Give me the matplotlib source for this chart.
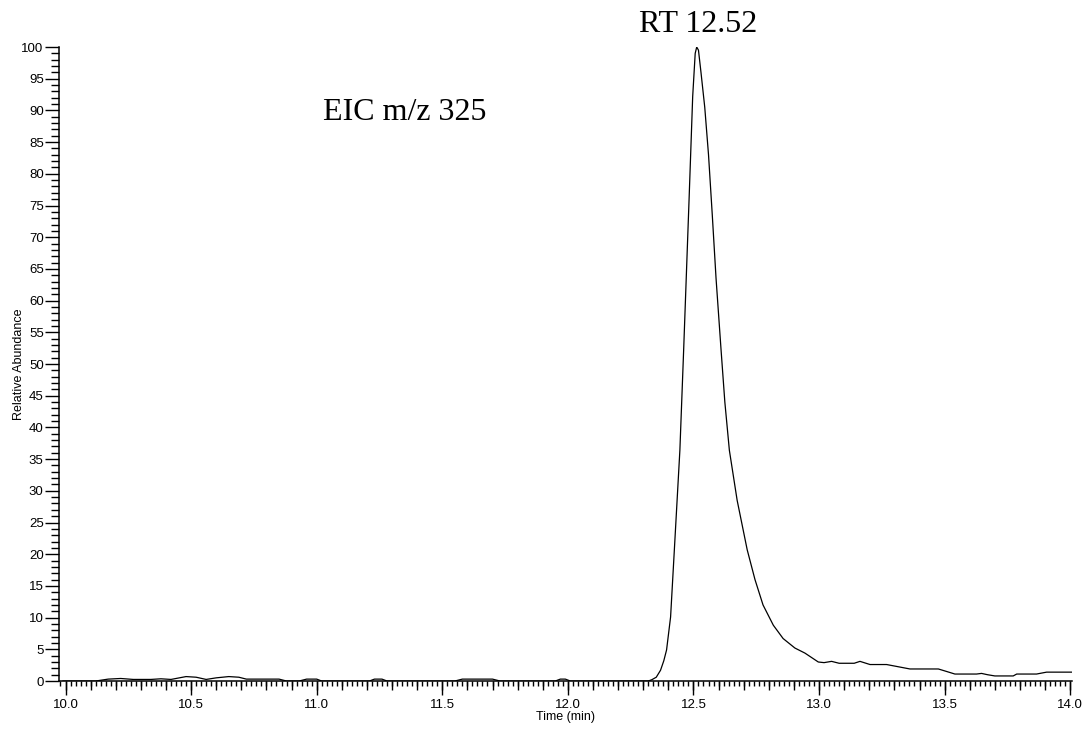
import numpy as np
import matplotlib
matplotlib.use("Agg")
import matplotlib.pyplot as plt
from matplotlib.ticker import MultipleLocator, FuncFormatter

# extracted ion chromatogram, m/z 325
time = [9.99, 10.12, 10.17, 10.22, 10.27, 10.34, 10.38, 10.42, 10.48, 10.52,
        10.56, 10.60, 10.65, 10.69, 10.72, 10.85, 10.88, 10.93, 10.96, 11.00,
        11.02, 11.21, 11.23, 11.26, 11.28, 11.55, 11.58, 11.70, 11.73, 11.95,
        11.97, 11.99, 12.01, 12.32,
        12.334, 12.352, 12.369, 12.382, 12.393, 12.409, 12.424, 12.446, 12.461,
        12.483, 12.497, 12.507, 12.513, 12.520,
        12.530, 12.545, 12.560, 12.575, 12.590, 12.610, 12.625, 12.643, 12.674,
        12.714, 12.745,
        12.777, 12.818, 12.857, 12.904, 12.944, 12.997, 13.020, 13.050, 13.080,
        13.110, 13.140, 13.163, 13.203, 13.269, 13.309, 13.362, 13.475, 13.500,
        13.541, 13.627, 13.647, 13.670, 13.700, 13.773, 13.787, 13.866, 13.906,
        14.005]
abundance = [0, 0, 0.3, 0.4, 0.25, 0.25, 0.35, 0.25, 0.7, 0.6,
             0.25, 0.5, 0.7, 0.6, 0.3, 0.3, 0, 0, 0.3, 0.3,
             0, 0, 0.3, 0.3, 0, 0, 0.3, 0.3, 0, 0,
             0.3, 0.3, 0, 0,
             0.2, 0.6, 1.7, 3.2, 4.9, 10.1, 20.7, 36.4, 52.2,
             76.4, 92.2, 99, 100, 99.5,
             96.0, 90.5, 83.0, 73.5, 63.5, 52.2, 44.0, 36.4, 28.5,
             20.7, 16.0,
             12.0, 8.8, 6.7, 5.2, 4.4, 3.0, 2.9, 3.1, 2.8,
             2.8, 2.8, 3.1, 2.6, 2.6, 2.3, 1.9, 1.9, 1.6,
             1.1, 1.1, 1.2, 1.0, 0.8, 0.8, 1.1, 1.1, 1.4,
             1.4]

peak_rt = 12.52
trace_label = "EIC m/z 325"

plt.rcParams['font.family'] = ['Liberation Sans', 'DejaVu Sans']

fig = plt.figure(figsize=(10.84, 7.30), dpi=100)
ax = fig.add_axes([0.0544, 0.0671, 0.9345, 0.8685])

ax.plot(time, abundance, color="k", lw=0.9)

ax.set_xlim(9.974, 14.007)
ax.set_ylim(0, 100)

for s in ["top", "right"]:
    ax.spines[s].set_visible(False)
for s in ["left", "bottom"]:
    ax.spines[s].set_linewidth(1.1)

ax.xaxis.set_major_locator(MultipleLocator(0.5))
ax.xaxis.set_minor_locator(MultipleLocator(0.02))
ax.xaxis.set_major_formatter(FuncFormatter(lambda v, p: f"{v:.1f}"))
ax.yaxis.set_major_locator(MultipleLocator(5))
ax.yaxis.set_minor_locator(MultipleLocator(1))
ax.tick_params(axis="x", which="major", length=10, width=1, pad=3, labelsize=9.5)
ax.tick_params(axis="x", which="minor", length=3.5, width=1)
ax.tick_params(axis="y", which="major", length=10, width=1, pad=1, labelsize=9.5)
ax.tick_params(axis="y", which="minor", length=6, width=1)

# medium ticks every 0.1 min
sec = ax.secondary_xaxis("bottom")
sec.set_xticks(np.arange(10.0, 14.01, 0.1))
sec.tick_params(length=6.5, width=1, labelbottom=False)
sec.spines["bottom"].set_visible(False)

ax.set_xlabel("Time (min)", fontsize=9, labelpad=0)
ax.set_ylabel("Relative Abundance", fontsize=9)
ax.yaxis.set_label_coords(-0.0335, 0.5)

ax.text(peak_rt, 102.4, f"RT {peak_rt:.2f}", ha="center", va="baseline",
        fontsize=23, family="Liberation Serif")
ax.text(11.025, 88.5, trace_label, ha="left", va="baseline",
        fontsize=23, family="Liberation Serif")

fig.savefig("out.png", dpi=100)
